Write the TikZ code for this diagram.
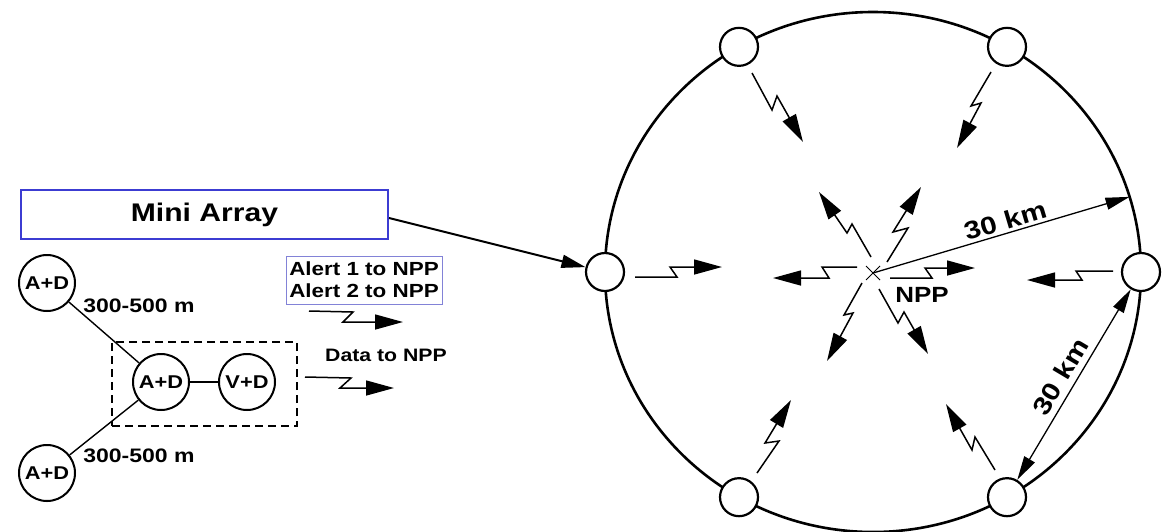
\documentclass[tikz,border=0pt]{standalone}
\usepackage{fontspec}
\setmainfont{Liberation Sans}[FakeStretch=1.18]
\usetikzlibrary{arrows.meta,shapes.misc}
\definecolor{miniblue}{RGB}{60,60,210}
\definecolor{alertblue}{RGB}{130,130,215}
\tikzset{dimtip/.tip={Triangle[length=24pt,width=12pt]}}
\begin{document}
\begin{tikzpicture}[x=1pt,y=-1pt,
  lab/.style={font=\fontsize{#1}{#1}\selectfont\bfseries, inner sep=0pt},
  stn/.style={circle, draw, line width=2.2pt, fill=white, minimum size=38pt, inner sep=0pt},
  sensor/.style={circle, draw, line width=2pt, fill=white, minimum size=56pt, inner sep=0pt,
                 font=\fontsize{18.5}{20}\selectfont\bfseries},
  link/.style={line width=1.4pt},
  bolt/.style={line width=1.5pt, line join=miter, -{Triangle[length=28pt,width=15pt]}},
  dim/.style={line width=1.3pt}
]
\useasboundingbox (0,0) rectangle (1166,531);

% ---- big ring with stations ----
\draw[line width=2.6pt] (873,272) ellipse [x radius=268pt, y radius=260pt];
\foreach \a in {0,60,120,180,240,300}
  \node[stn] (n\a) at ({873+268*cos(\a)},{272-260*sin(\a)}) {};

% ---- NPP centre ----
\node[cross out, draw, line width=1pt, minimum size=13pt, inner sep=0pt] (c) at (873,273) {};
\node[lab=22] (npp) at (922,295) {NPP};

% incoming bolts
\draw[bolt] (752,73) -- (772,110) -- (777,96) -- (803,142);
\draw[bolt] (991,72) -- (971,106) -- (981,103) -- (957,148);
\draw[bolt] (757,473) -- (779,441) -- (765,443) -- (791,400);
\draw[bolt] (995,470) -- (975,437) -- (972,450) -- (946,404);
\draw[bolt] (635,277) -- (677,277) -- (670,267) -- (722,267);
\draw[bolt] (1113,271) -- (1076,271) -- (1082,280) -- (1027,280);

% outgoing bolts
\draw[bolt] (871,257) -- (852,224) -- (847,233) -- (819,192);
\draw[bolt] (887,262) -- (908,228) -- (893,232) -- (921,187);
\draw[bolt] (857,267) -- (822,267) -- (829,278) -- (773,278);
\draw[bolt] (890,278) -- (932,278) -- (925,268) -- (975,268);
\draw[bolt] (862,283) -- (844,315) -- (853,313) -- (827,361);
\draw[bolt] (879,289) -- (898,323) -- (904,312) -- (928,354);

% radius dimension
\coordinate (rim) at ({873+268*cos(16.8)},{272-260*sin(16.8)});
\draw[dim, -{dimtip}] (c.center) -- (rim)
  node[pos=0.53, sloped, above=3pt, lab=25] {30\hspace{9pt}km};

% chord dimension
\draw[dim, {dimtip}-{dimtip}] (n0) -- (n300)
  node[midway, sloped, above=6pt, lab=25] {30\hspace{9pt}km};

% ---- mini array (left) ----
\node[draw=miniblue, line width=2pt, minimum width=367pt, minimum height=49pt, lab=25.5]
  (mini) at (204.5,214.5) {Mini Array};
\draw[line width=2pt, -{Triangle[length=24pt,width=13pt]}] ([yshift=-3.5pt]mini.east) -- (n180);

\node[draw, dashed, line width=1.5pt, dash pattern=on 8pt off 5pt,
      minimum width=185pt, minimum height=84pt, inner sep=0pt] (grp) at (204.5,384) {};

\node[sensor] (a1) at (47,283) {A+D};
\node[sensor] (a2) at (161,382) {A+D};
\node[sensor] (v1) at (247,382) {V+D};
\node[sensor] (a3) at (47,473) {A+D};
\draw[link] (a1) -- (a2);
\draw[link] (a3) -- (a2);
\draw[link] (a2) -- (v1);

\node[lab=19.5] (d1) at (139,306) {300-500 m};
\node[lab=19.5] (d2) at (139,456) {300-500 m};

\node[draw=alertblue, line width=1pt, minimum width=156pt, minimum height=48pt,
      align=left, inner sep=2pt, font=\fontsize{19}{22}\selectfont\bfseries]
  (alert) at (364,280) {Alert 1 to NPP\\Alert 2 to NPP};
\draw[bolt] (309,311) -- (353,312) -- (343,322) -- (403,322);

\node[lab=18] (data) at (386,355) {Data to NPP};
\draw[bolt] (305,377) -- (351,378) -- (340,388) -- (394,388);
\end{tikzpicture}
\end{document}
